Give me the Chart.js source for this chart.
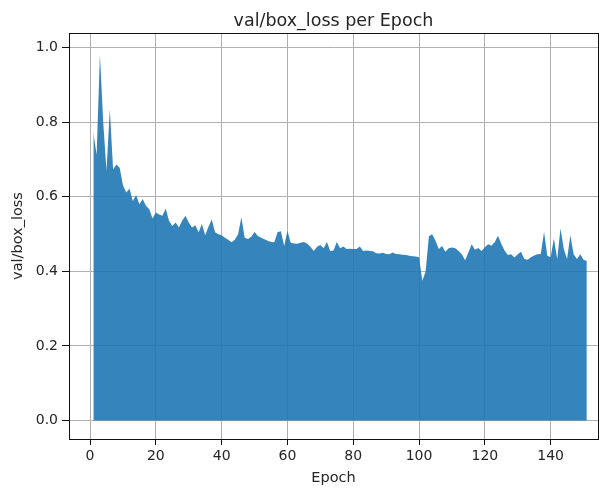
<!DOCTYPE html>
<html>
<head>
<meta charset="utf-8">
<script src="https://cdn.jsdelivr.net/npm/chart.js@4.4.1/dist/chart.umd.min.js"></script>
<style>
  html, body { margin: 0; padding: 0; background: #fff; }
  #wrap { width: 601px; height: 489px; }
</style>
</head>
<body>
<div id="wrap"><canvas id="GraficoLoss" width="601" height="489"></canvas></div>
<script>
// epochs 1..151
var epocas = [];
for (var i = 1; i <= 151; i++) epocas.push(i);

var valBoxLoss = [
  0.772, 0.712, 0.982, 0.800, 0.670, 0.835, 0.674, 0.687, 0.678, 0.631,
  0.612, 0.622, 0.589, 0.605, 0.580, 0.594, 0.576, 0.567, 0.542, 0.558,
  0.553, 0.549, 0.569, 0.536, 0.522, 0.531, 0.518, 0.536, 0.549, 0.531,
  0.518, 0.524, 0.505, 0.527, 0.497, 0.520, 0.539, 0.505, 0.500, 0.497,
  0.490, 0.485, 0.478, 0.485, 0.500, 0.545, 0.490, 0.487, 0.493, 0.506,
  0.495, 0.490, 0.486, 0.482, 0.479, 0.478, 0.505, 0.508, 0.468, 0.509,
  0.477, 0.475, 0.474, 0.477, 0.479, 0.474, 0.466, 0.455, 0.466, 0.471,
  0.462, 0.479, 0.455, 0.456, 0.479, 0.462, 0.467, 0.460, 0.461, 0.460,
  0.460, 0.467, 0.455, 0.456, 0.455, 0.454, 0.449, 0.448, 0.450, 0.447,
  0.446, 0.451, 0.447, 0.446, 0.445, 0.444, 0.442, 0.441, 0.440, 0.438,
  0.375, 0.400, 0.494, 0.500, 0.482, 0.460, 0.468, 0.453, 0.462, 0.464,
  0.462, 0.455, 0.446, 0.430, 0.451, 0.473, 0.458, 0.463, 0.455, 0.465,
  0.473, 0.469, 0.478, 0.496, 0.474, 0.456, 0.444, 0.446, 0.437, 0.446,
  0.453, 0.433, 0.431, 0.438, 0.443, 0.446, 0.447, 0.506, 0.442, 0.438,
  0.488, 0.433, 0.515, 0.460, 0.433, 0.497, 0.446, 0.433, 0.446, 0.431,
  0.428
];

var ticksX = [0, 20, 40, 60, 80, 100, 120, 140];
var ticksY = [0.0, 0.2, 0.4, 0.6, 0.8, 1.0];

var fonte = 'DejaVu Sans';
var corTexto = '#262626';

// moldura preta em volta da area do grafico
var moldura = {
  id: 'moldura',
  afterDraw: function (chart) {
    var a = chart.chartArea;
    var ctx = chart.ctx;
    ctx.save();
    ctx.strokeStyle = '#111';
    ctx.lineWidth = 1;
    ctx.strokeRect(Math.round(a.left) + 0.5, Math.round(a.top) + 0.5,
      Math.round(a.right - a.left), Math.round(a.bottom - a.top));
    ctx.restore();
  }
};

var ctx = document.getElementById('GraficoLoss').getContext('2d');

var grafico = new Chart(ctx, {
  type: 'line',
  data: {
    datasets: [{
      label: 'val/box_loss',
      data: epocas.map(function (e, i) { return { x: e, y: valBoxLoss[i] }; }),
      backgroundColor: 'rgba(31,119,180,0.9)',
      borderWidth: 0,
      pointRadius: 0,
      fill: 'origin',
      tension: 0
    }]
  },
  options: {
    responsive: false,
    animation: false,
    layout: { padding: { left: 0, right: 3, top: 0, bottom: 0 } },
    plugins: {
      legend: { display: false },
      tooltip: { enabled: false },
      title: { display: false }
    },
    scales: {
      x: {
        type: 'linear',
        min: -6.4,
        max: 154.4,
        z: 1,
        afterBuildTicks: function (s) { s.ticks = ticksX.map(function (v) { return { value: v }; }); },
        afterFit: function (s) { s.height = 50; },
        ticks: {
          font: { family: fonte, size: 14 },
          color: corTexto,
          padding: 3,
          maxRotation: 0,
          callback: function (v) { return String(v); }
        },
        grid: { color: '#b0b0b0', lineWidth: 1, drawTicks: true, tickLength: 6, tickColor: '#111' },
        border: { display: false },
        title: {
          display: true,
          text: 'Epoch',
          font: { family: fonte, size: 14.5 },
          color: corTexto,
          padding: { top: 0, bottom: 2 }
        }
      },
      topo: {
        type: 'linear',
        position: 'top',
        axis: 'x',
        min: -6.4,
        max: 154.4,
        afterFit: function (s) { s.height = 33; },
        ticks: { display: false },
        grid: { display: false },
        border: { display: false },
        title: {
          display: true,
          text: 'val/box_loss per Epoch',
          font: { family: fonte, size: 17.5 },
          color: corTexto,
          padding: { top: 11, bottom: 0 }
        }
      },
      y: {
        type: 'linear',
        min: -0.0495,
        max: 1.0395,
        z: 1,
        afterBuildTicks: function (s) { s.ticks = ticksY.map(function (v) { return { value: v }; }); },
        afterFit: function (s) { s.width = 69; },
        ticks: {
          font: { family: fonte, size: 14 },
          color: corTexto,
          padding: 4,
          callback: function (v) { return v.toFixed(1); }
        },
        grid: { color: '#b0b0b0', lineWidth: 1, drawTicks: true, tickLength: 7, tickColor: '#111' },
        border: { display: false },
        title: {
          display: true,
          text: 'val/box_loss',
          font: { family: fonte, size: 14.5 },
          color: corTexto,
          padding: { top: 10, bottom: 0 }
        }
      }
    }
  },
  plugins: [moldura]
});
</script>
</body>
</html>
